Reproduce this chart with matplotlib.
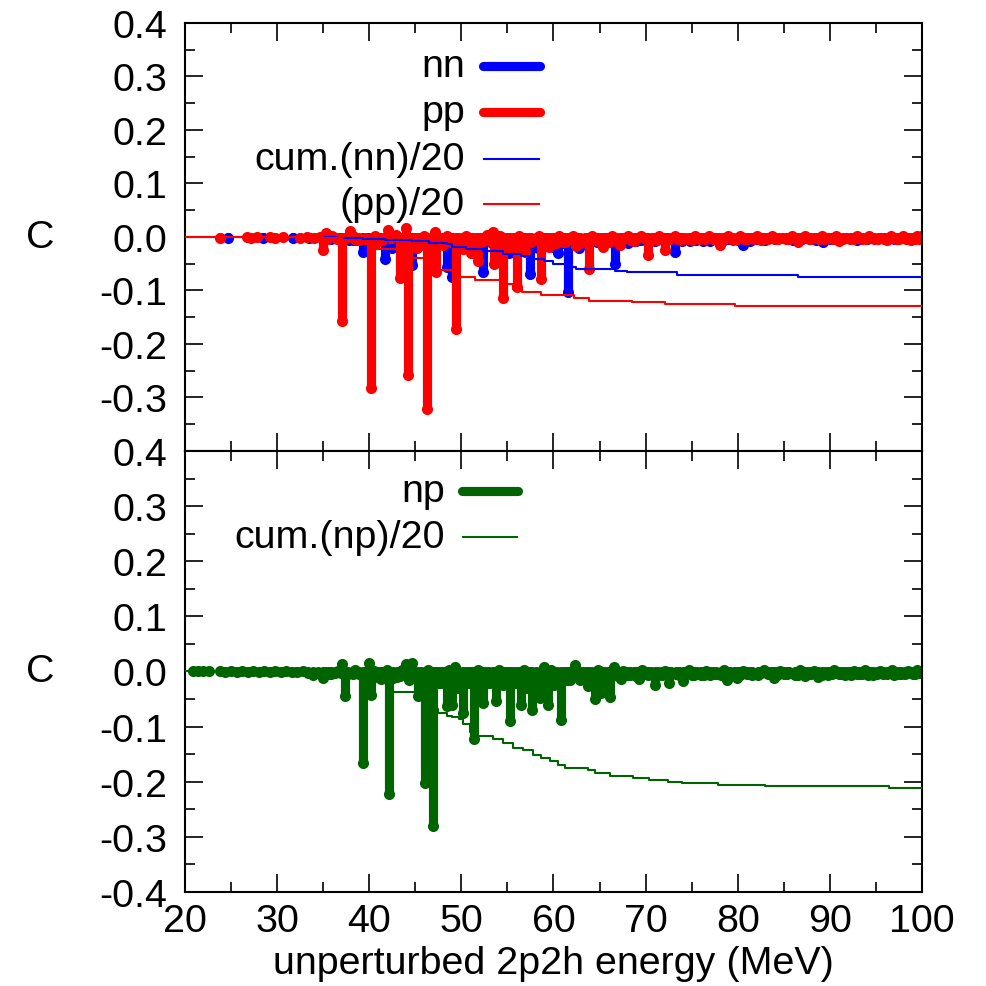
import numpy as np
import matplotlib
matplotlib.use("Agg")
import matplotlib.pyplot as plt

plt.rcParams['font.family'] = ['Liberation Sans', 'DejaVu Sans']
plt.rcParams['axes.unicode_minus'] = False

# nn impulses (energy in MeV, C)
nn_x = [24.7, 28.5, 31.7, 33.5, 36.8, 38.2, 39.3, 40.6, 41.7, 42.5, 44.6, 45.5, 47.0, 48.4,
        48.95, 50.3, 51.2, 52.4, 53.9, 55.2, 56.3, 57.45, 58.3, 60.0, 60.5, 61.6, 62.8, 64.7,
        65.5, 66.7, 68.1, 69.5, 71.0, 73.2, 74.8, 76.2, 77.8, 79.0, 80.6, 82.0, 84.0, 85.5,
        87.0, 89.3, 91.0, 92.5, 94.0, 95.5, 97.0, 98.5, 99.5, 100.0]
nn_v = [-0.001, -0.001, -0.001, -0.002, -0.003, -0.005, -0.028, -0.012, -0.041, -0.020, -0.052,
        -0.015, -0.020, -0.056, -0.075, -0.015, -0.030, -0.066, -0.020, -0.030, -0.018, -0.069,
        -0.020, -0.019, -0.030, -0.103, -0.020, -0.009, -0.010, -0.050, -0.012, -0.006, -0.008,
        -0.028, -0.008, -0.008, -0.005, -0.004, -0.015, -0.003, -0.004, -0.003, -0.004, -0.009,
        -0.003, -0.002, -0.004, -0.002, -0.003, -0.003, -0.002, 0.002]
# small nn terms forming the band near zero
nn_bg_x = [35.8, 37.8, 39.9, 41.2, 43.0, 43.9, 45.0, 46.0, 47.5, 49.5,
           50.8, 51.7, 53.3, 54.7, 55.7, 56.8, 58.8, 59.3, 60.9, 62.3,
           63.5, 64.0, 66.1, 67.3, 69.0, 70.3, 72.3, 74.0, 75.5, 77.0,
           78.5, 80.0, 81.3, 83.0, 86.0, 88.5, 90.0, 93.0, 96.0, 99.0]
nn_bg_v = [-0.004, -0.006, -0.008, -0.005, -0.010, -0.006, -0.008, -0.005, -0.009, -0.007,
           -0.010, -0.006, -0.012, -0.008, -0.007, -0.010, -0.009, -0.006, -0.011, -0.008,
           -0.007, -0.010, -0.006, -0.008, -0.007, -0.005, -0.006, -0.008, -0.005, -0.007,
           -0.006, -0.005, -0.007, -0.006, -0.005, -0.006, -0.004, -0.005, -0.004, -0.003]

# pp impulses
pp_x = [23.8, 26.7, 27.2, 27.8, 29.2, 29.8, 30.6, 32.5, 33.2, 34.0, 34.7, 35.0, 35.3, 37.1,
        37.9, 38.6, 40.15, 41.0, 42.0, 43.3, 44.0, 44.25, 45.2, 46.25, 47.1, 47.3, 48.0, 49.4,
        50.2, 51.0, 51.8, 52.0, 53.4, 53.5, 54.55, 55.2, 56.0, 56.9, 57.2, 58.7, 59.5, 60.3,
        61.0, 62.5, 63.9, 64.8, 65.4, 66.0, 67.2, 68.7, 70.3, 71.2, 72.1, 73.8, 75.0, 76.5,
        78.1, 79.5, 81.0, 82.5, 84.0, 85.2, 86.5, 88.0, 89.5, 91.0, 92.2, 93.5, 94.8, 96.2,
        97.5, 98.8, 99.7]
pp_v = [-0.001, 0.0, -0.001, 0.0, 0.0, -0.001, 0.0, -0.001, 0.0, -0.002, 0.0, -0.025, 0.007,
        -0.158, 0.012, -0.005, -0.283, -0.010, 0.013, -0.077, 0.016, -0.258, -0.020, -0.321,
        0.009, -0.066, -0.015, -0.172, -0.022, -0.030, -0.045, -0.010, 0.009, -0.051, -0.115,
        -0.020, -0.094, -0.028, -0.012, -0.078, -0.018, -0.012, -0.010, -0.017, -0.059, -0.008,
        -0.019, -0.010, -0.015, -0.008, -0.034, -0.006, -0.024, -0.005, -0.006, -0.004, -0.015,
        -0.006, -0.004, -0.005, -0.003, -0.004, -0.009, -0.003, -0.004, -0.007, -0.003, -0.004,
        -0.004, -0.006, -0.003, -0.005, -0.003]
pp_bg_x = [35.4, 36.0, 36.5, 37.5, 38.2, 38.9, 39.5, 40.6, 41.4, 42.4,
           42.9, 43.7, 44.7, 45.6, 46.0, 46.7, 47.7, 48.4, 48.9, 49.8,
           50.5, 51.3, 52.4, 52.8, 53.2, 53.9, 54.2, 54.9, 55.6, 56.3,
           57.6, 58.1, 58.4, 59.1, 59.8, 60.6, 61.3, 61.7, 62.1, 62.9,
           63.4, 64.2, 65.0, 65.8, 66.4, 66.8, 67.6, 68.1, 68.4, 69.0,
           69.5, 70.0, 70.7, 71.5, 71.9, 72.6, 73.2, 73.5, 74.2, 74.6,
           75.4, 75.8, 76.2, 76.9, 77.3, 77.7, 78.5, 78.9, 79.2, 79.9,
           80.3, 80.7, 81.4, 81.8, 82.1, 82.9, 83.3, 83.7, 84.4, 84.8,
           85.6, 85.9, 86.2, 86.9, 87.3, 87.7, 88.4, 88.8, 89.2, 89.9,
           90.3, 90.7, 91.4, 91.8, 92.6, 92.9, 93.2, 93.9, 94.3, 95.2,
           95.6, 95.9, 96.6, 96.9, 97.2, 97.9, 98.3, 98.5, 99.2, 99.5]
pp_bg_v = [-0.003, 0.002, -0.004, -0.002, 0.001, -0.005, -0.003, 0.002, -0.006, -0.002,
           0.003, -0.010, -0.004, -0.012, 0.002, -0.008, -0.014, 0.001, -0.010, -0.006,
           0.002, -0.012, -0.008, 0.003, -0.010, -0.006, 0.001, -0.014, -0.008, 0.002,
           -0.010, -0.005, 0.001, -0.012, -0.008, 0.002, -0.010, -0.004, 0.002, -0.012,
           -0.008, 0.001, -0.010, -0.005, 0.002, -0.008, -0.004, 0.001, -0.006, -0.003,
           0.002, -0.003, -0.005, 0.001, -0.002, -0.004, 0.002, -0.003, -0.001, -0.004,
           0.001, -0.003, -0.002, 0.002, -0.004, -0.001, -0.003, 0.001, -0.002, -0.004,
           0.002, -0.003, -0.001, -0.004, 0.001, -0.002, -0.003, 0.002, -0.004, -0.001,
           -0.003, 0.001, -0.002, -0.004, 0.002, -0.003, -0.001, -0.004, 0.001, -0.002,
           -0.003, 0.002, -0.004, -0.001, -0.003, 0.001, -0.002, -0.004, 0.002, -0.003,
           -0.001, -0.004, 0.001, -0.002, -0.003, 0.002, -0.004, -0.001, -0.003, 0.001]

# cumulative sums / 20 (step levels)
cum_nn_x = [20, 36.5, 39.3, 41.7, 44.6, 46.5, 48.4, 48.95, 50.5, 52.4, 54.5, 56.5, 57.45, 59.0,
            59.9, 61.6, 62.5, 66.7, 68.0, 73.4, 86.5, 100]
cum_nn_v = [0, -0.001, -0.003, -0.005, -0.008, -0.011, -0.014, -0.018, -0.022, -0.026, -0.031,
            -0.036, -0.041, -0.045, -0.050, -0.056, -0.059, -0.063, -0.066, -0.0705, -0.074, -0.074]
cum_pp_x = [20, 35.0, 37.1, 40.15, 43.3, 44.25, 46.25, 47.3, 49.4, 51.5, 54.55, 55.6, 56.6, 58.7,
            62.2, 63.9, 68.5, 72.1, 79.7, 100]
cum_pp_v = [0, -0.0015, -0.009, -0.022, -0.026, -0.040, -0.058, -0.062, -0.075, -0.081, -0.087,
            -0.097, -0.103, -0.109, -0.115, -0.119, -0.122, -0.1255, -0.1286, -0.1286]

# np impulses
np_x = [20.9, 21.4, 22.0, 22.6, 23.8, 24.4, 25.0, 25.6, 26.2, 26.8, 27.4, 28.0, 28.6, 29.2,
        29.8, 30.4, 31.0, 31.6, 32.2, 32.8, 33.4, 33.9, 35.0, 35.6, 36.3, 37.1, 37.4, 38.2,
        39.3, 40.0, 40.2, 41.0, 41.6, 42.2, 43.0, 44.0, 44.6, 45.3, 46.05, 46.95, 47.6, 48.4,
        48.95, 49.3, 49.5, 50.2, 50.8, 51.4, 52.4, 53.0, 53.8, 54.5, 55.3, 55.9, 56.5, 57.1,
        57.7, 58.5, 59.0, 59.4, 60.1, 60.8, 61.5, 62.3, 62.9, 63.8, 64.5, 65.2, 66.1, 66.6,
        67.3, 68.0, 69.3, 70.0, 71.0, 71.8, 72.5, 73.3, 74.1, 75.0, 76.0, 77.0, 78.8, 79.9,
        81.0, 82.2, 83.9, 85.0, 86.2, 87.3, 88.7, 89.8, 91.0, 92.3, 93.5, 94.7, 95.8, 97.0,
        98.2, 99.2, 100.0]
np_v = [0.0, 0.0, 0.0, 0.0, 0.0, -0.001, 0.0, -0.001, 0.0, -0.001, 0.0, -0.001, 0.0, -0.001,
        0.0, -0.001, 0.0, -0.001, -0.001, 0.0, -0.002, -0.007, -0.011, -0.004, -0.003, 0.013,
        -0.045, -0.005, -0.166, 0.016, -0.042, -0.006, -0.008, -0.223, -0.010, 0.013, 0.016,
        -0.045, -0.202, -0.281, -0.020, -0.063, -0.060, 0.009, -0.030, -0.075, -0.020, -0.123,
        -0.057, -0.020, -0.054, -0.025, -0.090, -0.020, -0.060, -0.030, -0.069, -0.048, 0.009,
        -0.060, -0.025, -0.088, -0.015, 0.011, -0.015, -0.027, -0.050, -0.039, -0.047, 0.009,
        -0.014, -0.006, -0.014, -0.005, -0.024, -0.006, -0.021, -0.005, -0.018, -0.007, -0.007,
        -0.006, -0.015, -0.012, -0.005, -0.006, -0.012, -0.005, -0.006, -0.008, -0.010, -0.007,
        -0.005, -0.006, -0.005, -0.006, -0.005, -0.006, -0.005, -0.004, 0.0]
np_bg_x = [34.4, 35.3, 35.9, 36.6, 36.9, 37.7, 38.5, 38.9, 39.7, 40.5,
           40.8, 41.3, 41.9, 42.6, 43.3, 43.6, 44.3, 44.9, 45.6, 46.4,
           47.2, 47.9, 48.2, 48.7, 49.8, 50.5, 51.1, 51.8, 52.1, 52.7,
           53.4, 54.1, 54.8, 55.0, 55.6, 56.2, 56.8, 57.4, 58.1, 58.8,
           59.7, 60.4, 61.1, 61.8, 62.6, 63.2, 63.5, 64.1, 64.8, 65.5,
           65.8, 66.9, 67.6, 68.3, 68.7, 69.0, 69.6, 70.3, 70.6, 71.4,
           72.1, 72.8, 73.6, 74.4, 74.7, 75.3, 75.6, 76.3, 76.6, 77.3,
           77.6, 78.2, 78.5, 79.2, 79.6, 80.3, 80.6, 81.3, 81.6, 82.5,
           82.8, 83.3, 83.6, 84.3, 84.6, 85.3, 85.6, 86.5, 86.8, 87.6,
           88.0, 88.3, 89.2, 89.5, 90.2, 90.5, 91.3, 91.6, 92.0, 92.6,
           92.9, 93.2, 93.8, 94.1, 94.4, 95.1, 95.4, 96.2, 96.5, 96.8,
           97.4, 97.7, 98.5, 98.8, 99.0, 99.5, 99.7, 62.0, 67.0, 79.0]
np_bg_v = [-0.003, -0.002, -0.004, 0.001, -0.003, -0.005, 0.002, -0.004, -0.006, 0.001,
           -0.010, -0.014, 0.002, -0.012, -0.008, 0.003, -0.016, -0.010, -0.018, 0.002,
           -0.016, -0.020, -0.012, 0.003, -0.018, -0.012, -0.020, 0.002, -0.016, -0.010,
           -0.020, 0.003, -0.014, -0.018, -0.010, -0.020, 0.002, -0.014, -0.010, -0.018,
           0.002, -0.014, -0.010, -0.016, 0.001, -0.012, -0.008, -0.014, 0.002, -0.010,
           -0.008, -0.004, 0.001, -0.007, -0.005, -0.008, 0.002, -0.006, -0.004, -0.007,
           0.001, -0.005, -0.007, -0.004, 0.002, -0.006, -0.003, -0.007, 0.001, -0.005,
           -0.004, -0.006, 0.002, -0.005, -0.003, -0.006, 0.001, -0.004, -0.006, -0.003,
           0.002, -0.005, -0.004, -0.006, 0.001, -0.004, -0.003, -0.006, 0.002, -0.005,
           -0.004, 0.001, -0.006, -0.003, -0.005, 0.002, -0.004, -0.006, -0.003, 0.001,
           -0.005, -0.004, 0.002, -0.006, -0.003, -0.004, 0.001, -0.005, -0.003, 0.002,
           -0.004, -0.005, 0.001, -0.003, -0.004, 0.002, -0.003, -0.007, -0.008, -0.006]

cum_np_x = [20, 37.4, 39.3, 40.1, 42.2, 45.3, 46.05, 46.95, 47.5, 48.4, 49.0, 49.7, 50.2, 50.9,
            51.5, 53.4, 54.5, 55.6, 56.7, 57.8, 58.7, 59.6, 60.5, 61.3, 63.8, 64.5, 66.1, 68.6,
            70.4, 72.4, 74.0, 77.9, 83.0, 96.4, 100]
cum_np_v = [0, -0.002, -0.010, -0.015, -0.038, -0.041, -0.052, -0.068, -0.075, -0.080, -0.083,
            -0.087, -0.095, -0.109, -0.117, -0.123, -0.129, -0.138, -0.143, -0.151, -0.157,
            -0.163, -0.170, -0.175, -0.179, -0.184, -0.190, -0.193, -0.196, -0.200, -0.202,
            -0.205, -0.208, -0.211, -0.211]

blue = '#0000ff'
red = '#ff0000'
green = '#006400'
FS = 28.4
LW = 6.6

fig = plt.figure(figsize=(9.87, 9.87), dpi=100)
ax1 = fig.add_axes([0.1874, 0.5421, 0.7467, 0.4336])
ax2 = fig.add_axes([0.1874, 0.0952, 0.7467, 0.4469])


def impulses(ax, x, v, color):
    ax.vlines(x, 0, v, colors=color, lw=LW, capstyle='round', zorder=2)
    ax.plot(x, v, 'o', color=color, ms=8.0, mew=0, zorder=2)


impulses(ax1, nn_x + nn_bg_x, nn_v + nn_bg_v, blue)
impulses(ax1, pp_x + pp_bg_x, pp_v + pp_bg_v, red)
ax1.step(cum_nn_x, cum_nn_v, where='post', color=blue, lw=1.5, zorder=3)
ax1.step(cum_pp_x, cum_pp_v, where='post', color=red, lw=1.5, zorder=3)

impulses(ax2, np_x + np_bg_x, np_v + np_bg_v, green)
ax2.step(cum_np_x, cum_np_v, where='post', color=green, lw=1.5, zorder=3)

yt = np.round(np.arange(-0.4, 0.41, 0.1), 1)
ylab = ['%.1f' % (v if abs(v) > 1e-9 else 0.0) for v in yt]
for ax in (ax1, ax2):
    ax.set_xlim(20, 100)
    ax.set_ylim(-0.4, 0.4)
    ax.set_xticks(np.arange(20, 101, 10))
    ax.set_xticks(np.arange(20, 101, 5), minor=True)
    ax.set_yticks(yt)
    ax.set_yticks(np.arange(-0.4, 0.41, 0.05), minor=True)
    ax.tick_params(which='both', direction='in', top=True, right=True, width=1.2,
                   labelsize=FS)
    ax.tick_params(which='major', length=13)
    ax.tick_params(which='minor', length=7)
    ax.tick_params(axis='y', pad=13)
    ax.tick_params(axis='x', pad=8)
    for s in ax.spines.values():
        s.set_linewidth(1.5)

ax1.set_yticklabels(['' if i == 0 else t for i, t in enumerate(ylab)])
ax1.set_xticklabels([])
ax2.set_yticklabels(ylab)
ax2.set_xticklabels([str(v) for v in range(20, 101, 10)])

fig.text(0.041, 0.759, 'C', fontsize=FS, ha='center', va='center')
fig.text(0.041, 0.319, 'C', fontsize=FS, ha='center', va='center')
ax2.set_xlabel('unperturbed 2p2h energy (MeV)', fontsize=FS, labelpad=4)


# keys
def key(ax, tx, x0, x1, y, label, color, lw):
    ax.text(tx, y, label, transform=ax.transAxes, ha='right', va='center', fontsize=FS)
    ax.plot([x0, x1], [y, y], transform=ax.transAxes, color=color, lw=lw,
            solid_capstyle='round' if lw > 3 else 'butt')


key(ax1, 0.380, 0.404, 0.482, 0.900, 'nn', blue, LW)
key(ax1, 0.380, 0.404, 0.482, 0.792, 'pp', red, LW)
key(ax1, 0.380, 0.404, 0.482, 0.682, 'cum.(nn)/20', blue, 1.5)
key(ax1, 0.380, 0.404, 0.482, 0.577, '(pp)/20', red, 1.5)
key(ax2, 0.353, 0.376, 0.452, 0.909, 'np', green, LW)
key(ax2, 0.353, 0.376, 0.452, 0.805, 'cum.(np)/20', green, 1.5)

fig.savefig('out.png', dpi=100)
